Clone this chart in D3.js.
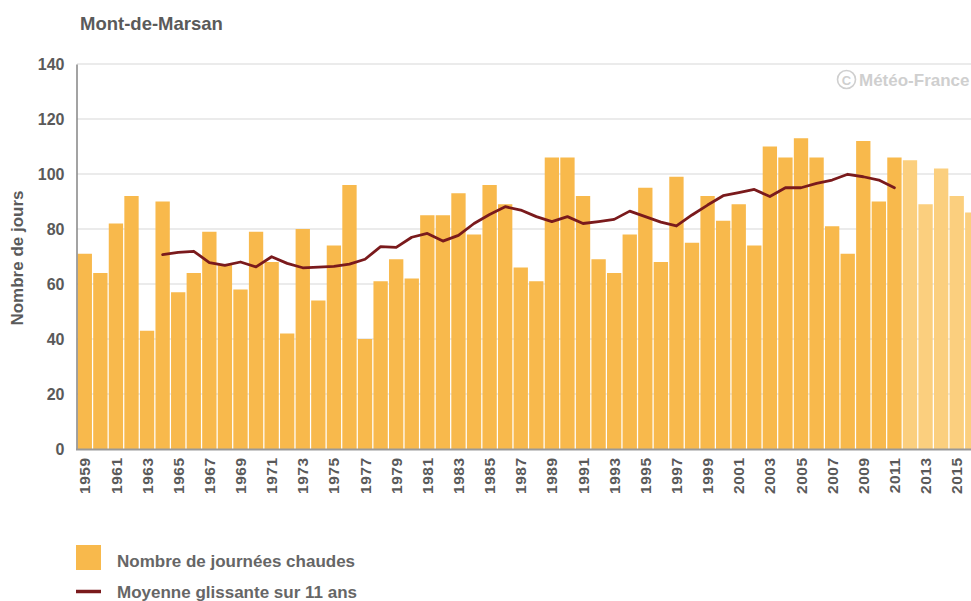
<!DOCTYPE html>
<html>
<head>
<meta charset="utf-8">
<script src="https://cdn.jsdelivr.net/npm/d3@7"></script>
<style>
  html, body { margin: 0; padding: 0; background: #fff; overflow: hidden; }
  svg { display: block; font-family: "Liberation Sans", Arial, sans-serif; }
</style>
</head>
<body>
<svg id="chart" width="971" height="601"></svg>
<script>
// Annual count of hot days at Mont-de-Marsan, 1959–2016
const years = d3.range(1959, 2017);
const hotDays = [
  71, 64, 82, 92, 43, 90, 57, 64, 79, 67,
  58, 79, 68, 42, 80, 54, 74, 96, 40, 61,
  69, 62, 85, 85, 93, 78, 96, 89, 66, 61,
  106, 106, 92, 69, 64, 78, 95, 68, 99, 75,
  92, 83, 89, 74, 110, 106, 113, 106, 81, 71,
  112, 90, 106, 105, 89, 102, 92, 86
];
// Years shown in the lighter shade (not yet covered by the running mean)
const recentYears = [2012, 2013, 2014, 2015, 2016];

// 11-year running mean, centred, 1964–2011
const meanYears = d3.range(1964, 2012);
const runningMean = [
  70.7, 71.5, 71.9, 67.8, 66.8, 68.0, 66.2, 69.9, 67.5, 65.9,
  66.1, 66.4, 67.2, 69.0, 73.6, 73.3, 77.0, 78.4, 75.6, 77.7,
  82.0, 85.3, 88.1, 86.9, 84.5, 82.7, 84.5, 82.0, 82.7, 83.5,
  86.5, 84.5, 82.5, 81.1, 85.1, 88.7, 92.1, 93.2, 94.4, 91.8,
  95.0, 95.0, 96.6, 97.8, 99.9, 99.0, 97.8, 95.0
];

const yTicks = [0, 20, 40, 60, 80, 100, 120, 140];
const labelYears = years.filter(y => (y - 1959) % 2 === 0);

const title = "Mont-de-Marsan";
const yTitle = "Nombre de jours";
const legendBars = "Nombre de journées chaudes";
const legendLine = "Moyenne glissante sur 11 ans";

const colBar = "#f8b94c";
const colBarLight = "#fbcf7e";
const colLine = "#7a1a1c";
const colText = "#5a5a5a";

const svg = d3.select("#chart");
const left = 77, step = 15.57;

const x = d3.scaleBand()
  .domain(years)
  .range([left, left + step * years.length])
  .paddingInner(0.08)
  .paddingOuter(0.04);

const y = d3.scaleLinear().domain([0, 140]).range([449, 64]);

// Title
svg.append("text")
  .attr("x", 80).attr("y", 29.5)
  .attr("font-size", 18.5).attr("font-weight", "bold")
  .attr("fill", colText)
  .text(title);

// Horizontal grid
svg.append("g")
  .selectAll("line")
  .data(yTicks.filter(t => t > 0))
  .join("line")
  .attr("x1", left).attr("x2", 971)
  .attr("y1", d => y(d)).attr("y2", d => y(d))
  .attr("stroke", "#e4e4e4").attr("stroke-width", 1.5);

// Watermark
const wm = svg.append("g").attr("fill", "#cfcfcf");
wm.append("circle")
  .attr("cx", 846.5).attr("cy", 79.5).attr("r", 9)
  .attr("fill", "none").attr("stroke", "#cfcfcf").attr("stroke-width", 1.6);
wm.append("text")
  .attr("x", 846.5).attr("y", 84.5)
  .attr("text-anchor", "middle")
  .attr("font-size", 13).attr("font-weight", "bold")
  .text("C");
wm.append("text")
  .attr("x", 859).attr("y", 85.5)
  .attr("font-size", 17).attr("font-weight", "bold")
  .text("Météo-France");

// Bars
svg.append("g")
  .selectAll("rect")
  .data(years.map((yr, i) => ({ yr, v: hotDays[i] })))
  .join("rect")
  .attr("x", d => x(d.yr))
  .attr("width", x.bandwidth())
  .attr("y", d => y(d.v))
  .attr("height", d => y(0) - y(d.v))
  .attr("fill", d => recentYears.includes(d.yr) ? colBarLight : colBar);

// Running mean
const line = d3.line()
  .x(d => x(d.yr) + x.bandwidth() / 2)
  .y(d => y(d.v));
svg.append("path")
  .datum(meanYears.map((yr, i) => ({ yr, v: runningMean[i] })))
  .attr("d", line)
  .attr("fill", "none")
  .attr("stroke", colLine)
  .attr("stroke-width", 2.8)
  .attr("stroke-linejoin", "round")
  .attr("stroke-linecap", "round");

// Y axis
const yAxis = d3.axisLeft(y).tickValues(yTicks).tickSize(0).tickPadding(12);
const gy = svg.append("g").attr("transform", `translate(${left - 0.5},0)`).call(yAxis);
gy.select(".domain").attr("stroke", "#8c8c8c").attr("stroke-width", 1.6);
gy.selectAll("text")
  .attr("font-size", 16).attr("font-weight", "bold")
  .attr("fill", colText)
  .attr("font-family", "Liberation Sans, Arial, sans-serif");

// X axis
const xAxis = d3.axisBottom(x).tickValues(labelYears).tickSize(0).tickFormat(d3.format("d"));
const gx = svg.append("g").attr("transform", `translate(0,${y(0) + 0.5})`).call(xAxis);
gx.select(".domain").remove();
gx.selectAll("text")
  .attr("font-size", 15.5).attr("font-weight", "bold")
  .attr("letter-spacing", "0.5px")
  .attr("fill", colText)
  .attr("font-family", "Liberation Sans, Arial, sans-serif")
  .attr("text-anchor", "end")
  .attr("transform", "rotate(-90)")
  .attr("x", -8).attr("y", 0).attr("dy", "0.36em");
svg.append("line")
  .attr("x1", left - 1).attr("x2", 971)
  .attr("y1", y(0) + 0.5).attr("y2", y(0) + 0.5)
  .attr("stroke", "#999").attr("stroke-width", 2);

// Y axis title
svg.append("text")
  .attr("transform", "translate(23,258) rotate(-90)")
  .attr("text-anchor", "middle")
  .attr("font-size", 17).attr("font-weight", "bold")
  .attr("fill", colText)
  .text(yTitle);

// Legend
const lg = svg.append("g");
lg.append("rect")
  .attr("x", 76).attr("y", 545).attr("width", 25).attr("height", 25)
  .attr("fill", colBar);
lg.append("text")
  .attr("x", 117).attr("y", 566.5)
  .attr("font-size", 17).attr("font-weight", "bold")
  .attr("fill", "#666")
  .text(legendBars);
lg.append("line")
  .attr("x1", 76).attr("x2", 101).attr("y1", 591.5).attr("y2", 591.5)
  .attr("stroke", colLine).attr("stroke-width", 3.5);
lg.append("text")
  .attr("x", 117).attr("y", 598)
  .attr("font-size", 17).attr("font-weight", "bold")
  .attr("fill", "#666")
  .text(legendLine);
</script>
</body>
</html>
